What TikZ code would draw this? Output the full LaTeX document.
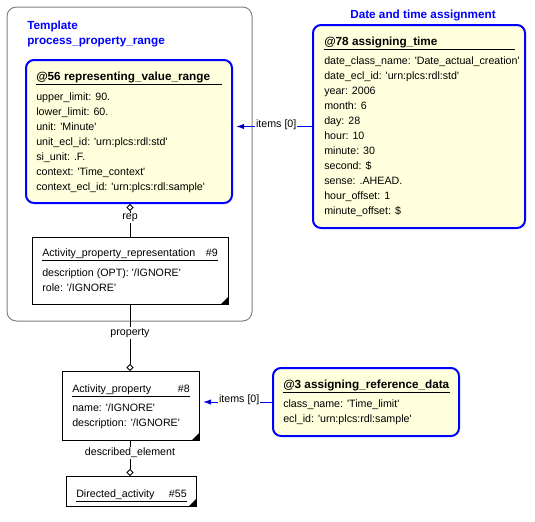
\documentclass[tikz,border=0pt]{standalone}
\usepackage{fontspec}
\setmainfont{Liberation Sans}
\usepackage{tikz}
\usetikzlibrary{fit,shapes.geometric,arrows.meta}
\definecolor{notefill}{RGB}{255,255,221}
\definecolor{noteblue}{RGB}{0,0,255}
\newcommand{\aq}{\textquotesingle}
\newcommand{\tikzCornerMark}[1]{
  \fill (#1.south east) -- ++(-8,0) -- ++(8,-8) -- cycle;
}
\newcommand{\tikzHeadLine}[3]{
  \draw[line width=0.75pt] (#1,#3) -- (#2,#3);
}

\begin{document}
\begin{tikzpicture}[x=0.75pt, y=-0.75pt,
  txt/.style={inner sep=0pt,anchor=base west,font=\fontsize{8}{10}\selectfont},
  hdr/.style={txt,font=\fontsize{8.8}{10}\selectfont\bfseries},
  ttl/.style={hdr,text=noteblue},
  ybox/.style={draw=noteblue,line width=1.5pt,fill=notefill,rounded corners=6pt,inner sep=0pt},
  wbox/.style={draw,line width=0.75pt,fill=white,inner sep=0pt},
  grpbox/.style={draw=gray,line width=0.75pt,rounded corners=7pt,inner sep=0pt},
  lbl/.style={txt,anchor=center,fill=white,inner sep=0.8pt},
  dmd/.style={draw,line width=0.6pt,fill=white,diamond,inner sep=0pt,minimum size=4.8pt},
  refline/.style={draw=noteblue,line width=0.75pt,-{Latex[length=6pt,width=4pt]}},
  relline/.style={draw,line width=0.75pt}]
  \useasboundingbox (0,0) rectangle (535,521);

  % template group
  \node [grpbox,fit={(7,7) (252,321)}] (tmpl) {};
  \node [ttl] (tmpl1) at (27,29) {Template};
  \node [ttl] (tmpl2) at (27,44) {process\_property\_range};

  % @56
  \node [ybox,fit={(26,60) (232,203)}] (r56) {};
  \node [hdr] (r56h) at (36,80) {@56 representing\_value\_range};
  \tikzHeadLine{36}{222}{84}
  \foreach \t [count=\i] in {upper\_limit: 90., lower\_limit: 60., unit: \aq Minute\aq,
    unit\_ecl\_id: \aq urn:plcs:rdl:std\aq, si\_unit: .F., context: \aq Time\_context\aq,
    context\_ecl\_id: \aq urn:plcs:rdl:sample\aq}
    \node [txt] (r56-\i) at (36,85+15*\i) {\t};

  % @78
  \node [ttl,anchor=base] (r78t) at (423,18) {Date and time assignment};
  \node [ybox,fit={(313,25) (525,228)}] (r78) {};
  \node [hdr] (r78h) at (324,45) {@78 assigning\_time};
  \tikzHeadLine{324}{515}{49}
  \foreach \t [count=\i] in {date\_class\_name: \aq Date\_actual\_creation\aq,
    date\_ecl\_id: \aq urn:plcs:rdl:std\aq, year: 2006, month: 6, day: 28, hour: 10,
    minute: 30, second: \$, sense: .AHEAD., hour\_offset: 1, minute\_offset: \$}
    \node [txt] (r78-\i) at (324,49+15*\i) {\t};

  % #9
  \node [wbox,fit={(32,237) (228,304)}] (b9) {};
  \node [txt] (b9h) at (42,256) {Activity\_property\_representation};
  \node [txt,anchor=base east] (b9n) at (218,256) {\#9};
  \tikzHeadLine{42}{218}{260}
  \node [txt] (b9-1) at (42,276) {description (OPT): \aq/IGNORE\aq};
  \node [txt] (b9-2) at (42,291) {role: \aq/IGNORE\aq};
  \tikzCornerMark{b9}

  % #8
  \node [wbox,fit={(62,371) (199,440)}] (b8) {};
  \node [txt] (b8h) at (72,392) {Activity\_property};
  \node [txt,anchor=base east] (b8n) at (190,392) {\#8};
  \tikzHeadLine{72}{190}{396}
  \node [txt] (b8-1) at (72,411) {name: \aq/IGNORE\aq};
  \node [txt] (b8-2) at (72,426) {description: \aq/IGNORE\aq};
  \tikzCornerMark{b8}

  % #55
  \node [wbox,fit={(66,476) (196,506)}] (b55) {};
  \node [txt] (b55h) at (76,497) {Directed\_activity};
  \node [txt,anchor=base east] (b55n) at (187,497) {\#55};
  \tikzHeadLine{76}{187}{501}
  \tikzCornerMark{b55}

  % @3
  \node [ybox,fit={(273,368) (459,436)}] (r3) {};
  \node [hdr] (r3h) at (283,388) {@3 assigning\_reference\_data};
  \tikzHeadLine{283}{450}{392}
  \node [txt] (r3-1) at (283,407) {class\_name: \aq Time\_limit\aq};
  \node [txt] (r3-2) at (283,422) {ecl\_id: \aq urn:plcs:rdl:sample\aq};

  % relations
  \node [dmd] (d56) at (130,207.5) {};
  \node [dmd] (d8) at (130,367.5) {};
  \node [dmd] (d55) at (130,472.5) {};
  \path [relline] (d56.south) edge (d56.south |- b9.north);
  \path [relline] (b9.south -| d8) edge (d8.north);
  \path [relline] (b8.south -| d55) edge (d55.north);
  \node [lbl] (rep) at (130,218) {rep};
  \node [lbl] (prop) at (130,333) {property};
  \node [lbl] (desc) at (130,453) {described\_element};

  % items
  \coordinate (a56) at (236,126.5);
  \coordinate (a8) at (203,402);
  \path [refline] (r78) edge (a56);
  \path [refline] (r3) edge (a8);
  \node [txt,fill=white,inner sep=0.6pt] (it56) at (255,127) {items [0]};
  \node [txt,fill=white,inner sep=0.6pt] (it8) at (218,402) {items [0]};
\end{tikzpicture}
\end{document}
